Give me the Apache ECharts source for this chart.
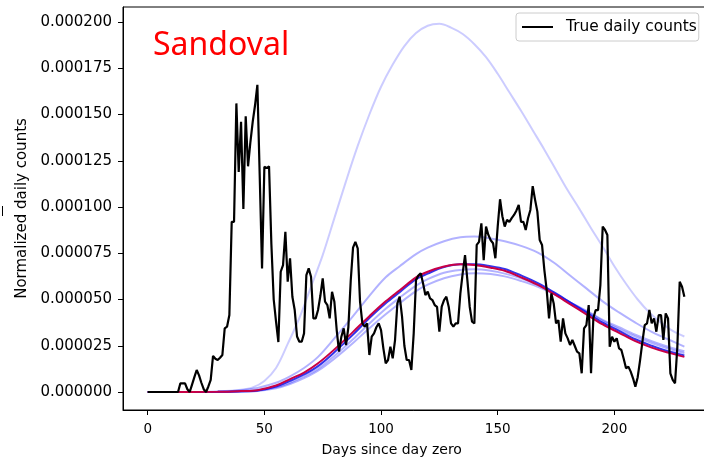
<!DOCTYPE html>
<html><head><meta charset="utf-8">
<script src="https://cdn.jsdelivr.net/npm/echarts@6/dist/echarts.min.js"></script>
<style>html,body{margin:0;padding:0;background:#fff}#c{width:704px;height:462px}</style>
</head><body><div id="c"></div>
<script>
// ---- data (values in units of 1e-6) ----
const trueDays = Array.from({length: 231}, (_, i) => i);
const trueCounts = [
  0,0,0,0,0,0,0,0,0,0,
  0,0,0,0,4.7,4.7,4.7,1.5,0,4,
  8,11.9,9,5,1.5,0,3,6.5,19.5,18,
  17.3,18.5,20,34.4,35.3,41.6,92,92,156,119,
  146,99,149,122,135,146,155,166,117,66.8,
  121.8,121,122,80,50,38,27,65,68.6,86.6,
  59.6,72.2,51.5,44.3,30,27.2,27.2,31.7,63.2,66.8,
  62.3,39.8,39.8,44.3,52,61.4,48.8,47,39.8,54.2,
  48.8,33.5,21.8,29.9,34.4,25.4,35,60,78,81.2,
  77.7,48.8,37.1,35.3,37.1,20,29.9,31.7,35,37.1,
  33.5,23.6,15.5,17.3,24.5,18.2,28.1,47.9,51.5,40.7,
  25,17.3,17.3,11.9,31.7,60.5,63,64.2,58.8,52.4,
  54.2,50.6,49.7,47,46,32.6,46.1,49.7,51.5,46.1,
  37.1,35.3,37.1,37.1,53.3,64.2,74,60.5,46.1,38,
  37.1,79.5,81.2,91.2,71.3,89.4,84.9,82,80.4,72.3,
  89.4,104.2,95,89.4,93,92,94,95.7,98,101.1,
  92,92,87.6,93.9,98.4,111.3,104,97.5,82.2,79.5,
  65.9,55.1,39.8,53.3,47.9,37.1,38.9,27.2,39.8,31.7,
  29,25.4,28.1,25,21.8,20.9,10.1,34.4,36.2,47,
  10.1,40,44.3,44.3,57.8,89.4,87.6,84.9,24.5,29.9,
  27.2,29,23.6,22.7,18,12.8,13.7,11,7.4,2.9,
  8,17,27,36.2,37.1,44.3,37.1,39.8,32.6,41.6,
  41.6,28.1,42.5,39.8,10.1,6.5,4.7,24.5,59.6,56.9,
  51.5
];

const wideDays  = [0,20,30,40,45,50,55,60,65,70,75,80,85,90,95,100,105,110,115,120,125,130,135,140,145,150,155,160,165,170,175,180,185,190,195,200,205,210,215,220,225,230];
const wideCurve = [0,0.05,0.3,1.2,2.5,6,13,26,40,57,74,94,114,133,150,165,177,187,194,198,199,197,193.5,188,181,172,162,152,141.5,131,120,109,99,88.5,78.5,68,58.5,50,43,37.5,33,30];

const modelDays  = [0,30,40,47,55,61,67,73,80,88,95,102,108,115,120,127,134,140,147,153,160,167,174,181,188,195,202,209,216,223,230];
const upperCurve = [0,0.2,0.9,2.2,5,8.5,13,19,29,41,52,62,68,74.5,78,81.5,83.6,84,83,81.5,79,75.5,70,63,56,49,43,37.5,32.5,28.5,24.5];
const bundle1    = [0,0.1,0.4,0.8,3,6,9.5,14,21.5,31,40,48,54,61,64,67.5,69,69,68,66.5,63,59,54,48.5,43,37.5,33,28.5,25,22,19.8];
const bundle2    = [0,0.1,0.3,0.7,2.5,5,8.5,12.5,19.5,28.5,37,45,51,57.5,61,64.5,66,66.3,65.5,64,61.5,58,53.5,48.5,43.5,38.5,34,30,26.5,23.5,21];
const bundle3    = [0,0.05,0.2,0.5,2,4.3,7.5,11.5,18,26.5,34.5,42,48,54.5,58,61.5,63.5,64.2,63.8,62.5,60,57,53,48.5,44,39,35,31,27.5,24.5,22];
const bestCurve  = [0,0.1,0.5,1,3.5,7,10.5,15.5,23,32.5,41,49,55,62,65,67.8,69,68.6,67.2,65.5,62,58,53,47.5,42,36.5,32,27.5,24,21.3,19];

const xTicks = [0,50,100,150,200];
const yTicks = [0,25,50,75,100,125,150,175,200];

// ---- chart ----
const pairs = (xs, ys) => xs.map((x, i) => [x, ys[i]]);
const FONT = 'DejaVu Sans';
const curve = (name, xs, ys, color, width) => ({
  name, type: 'line', data: pairs(xs, ys), smooth: 0.35, showSymbol: false,
  symbol: 'none', silent: true, lineStyle: {color, width}, itemStyle: {color}, z: 2
});

const chart = echarts.init(document.getElementById('c'), null, {renderer: 'canvas'});
chart.setOption({
  animation: false,
  backgroundColor: '#fff',
  textStyle: {fontFamily: FONT},
  grid: {left: 123, right: -10, top: 7, bottom: 52, show: true, borderColor: '#000', borderWidth: 1,
         containLabel: false, outerBoundsMode: 'none'},
  legend: {
    data: [{name: 'True daily counts', icon: 'rect'}],
    left: 516, top: 13, itemWidth: 31, itemHeight: 2, itemGap: 0,
    padding: [6.5, 2, 6.5, 6], borderColor: '#ccc', borderWidth: 1, borderRadius: 3,
    backgroundColor: '#fff',
    textStyle: {fontFamily: FONT, fontSize: 15.4, color: '#000', padding: [0, 0, 0, 8]}
  },
  xAxis: {
    type: 'value', min: -10.59, max: 242.7,
    axisLine: {show: true, onZero: false, lineStyle: {color: '#000', width: 1}},
    splitLine: {show: false},
    axisTick: {show: true, customValues: xTicks, length: 5, lineStyle: {color: '#000'}},
    axisLabel: {customValues: xTicks, fontSize: 13.5, color: '#000', margin: 12, fontFamily: FONT}
  },
  yAxis: {
    type: 'value', min: -9.73, max: 208.11,
    name: 'Normalized daily counts', nameLocation: 'middle', nameGap: 92,
    nameTextStyle: {fontSize: 15, color: '#000', fontFamily: FONT},
    axisLine: {show: true, onZero: false, lineStyle: {color: '#000', width: 1}},
    splitLine: {show: false},
    axisTick: {show: true, customValues: yTicks, length: 5, lineStyle: {color: '#000'}},
    axisLabel: {customValues: yTicks, fontSize: 15, color: '#000', margin: 11, fontFamily: FONT,
                formatter: v => (v * 1e-6).toFixed(6)}
  },
  graphic: [
    {type: 'text', style: {text: 'Sandoval', x: 153, y: 46, fill: '#ff0000',
      font: '32px "Noto Sans"', verticalAlign: 'middle'}, z: 10},
    {type: 'text', style: {text: 'Days since day zero', x: 391.7, y: 450, fill: '#000',
      font: '14px "DejaVu Sans"', align: 'center', verticalAlign: 'middle'}, z: 10},
    {type: 'line', shape: {x1: 2.5, y1: 206, x2: 2.5, y2: 216}, style: {stroke: '#000', lineWidth: 1}}
  ],
  series: [
    curve('wide', wideDays, wideCurve, 'rgba(0,0,255,0.2)', 2),
    curve('upper', modelDays, upperCurve, 'rgba(0,0,255,0.3)', 2),
    curve('b3', modelDays, bundle3, 'rgba(0,0,255,0.3)', 2),
    curve('b2', modelDays, bundle2, 'rgba(0,0,255,0.3)', 2),
    curve('b1', modelDays, bundle1, 'rgba(0,0,230,0.8)', 2),
    curve('best', modelDays, bestCurve, 'rgb(200,0,70)', 2),
    {name: 'True daily counts', type: 'line', data: pairs(trueDays, trueCounts), showSymbol: false,
     symbol: 'none', lineStyle: {color: '#000', width: 2.2}, itemStyle: {color: '#000'}, z: 5}
  ]
});
</script></body></html>
